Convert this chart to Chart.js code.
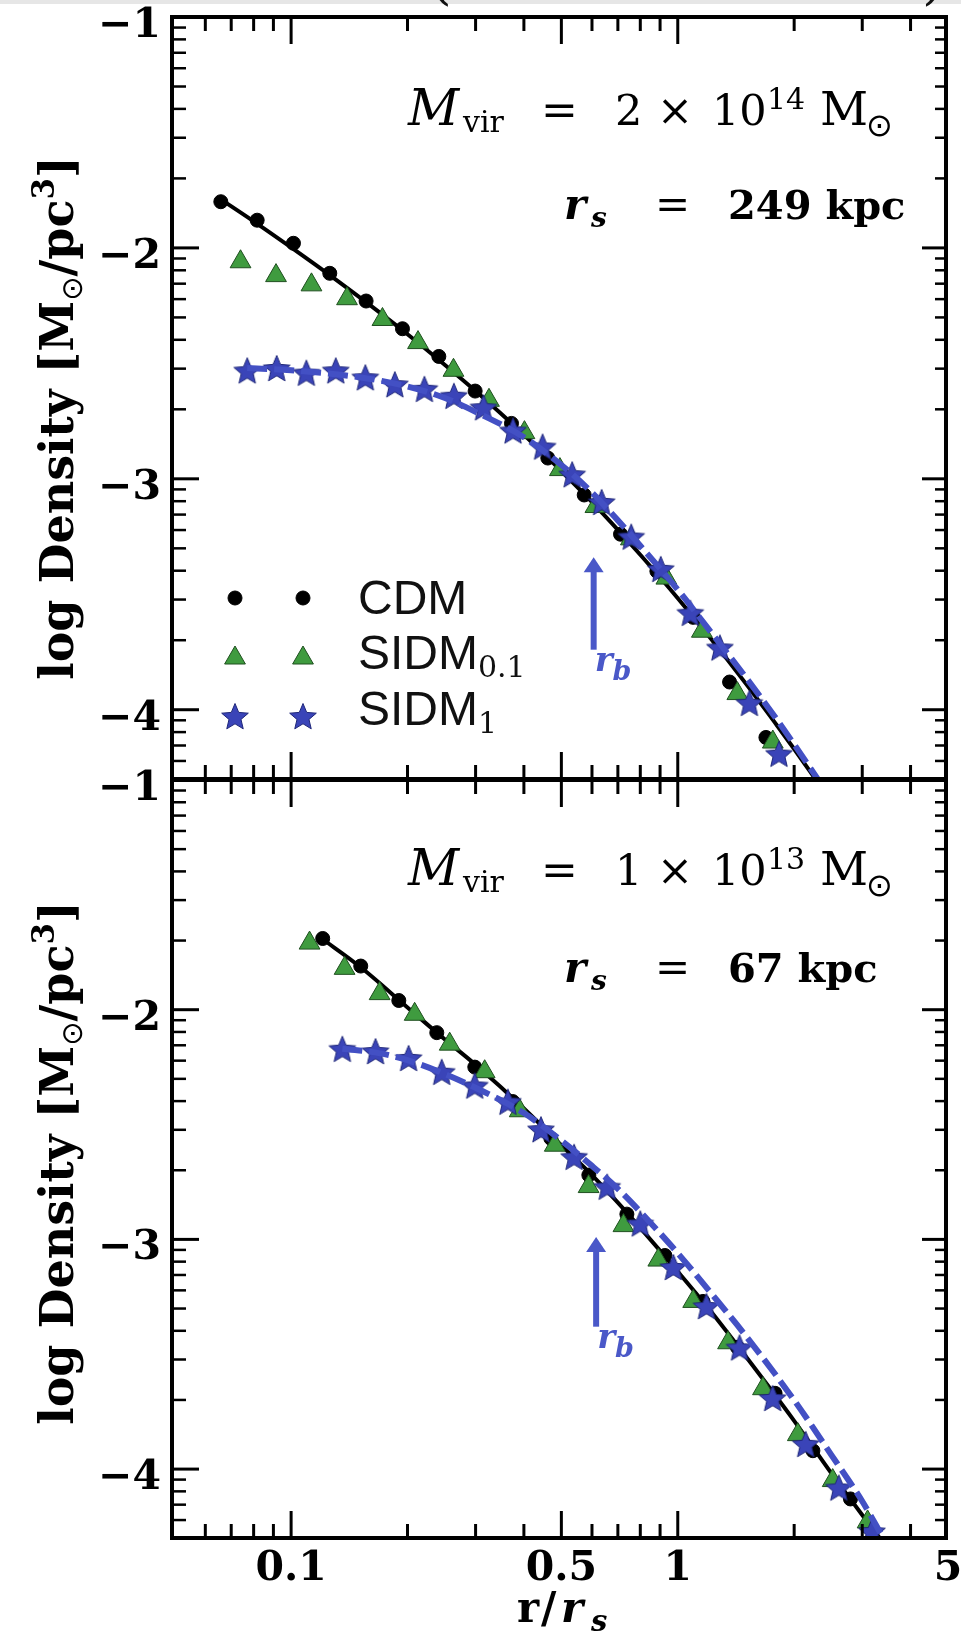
<!DOCTYPE html>
<html><head><meta charset="utf-8">
<script src="https://cdn.jsdelivr.net/npm/chart.js@4.4.1/dist/chart.umd.min.js"></script>
<style>
html,body{margin:0;padding:0;background:#fff;}
body{width:961px;height:1633px;position:relative;overflow:hidden;}
canvas{position:absolute;left:0;top:0;}
#strip{position:absolute;left:0;top:0;width:961px;height:4px;background:#e6e6e6;}
#parens{position:absolute;left:0;top:0;width:961px;height:9px;overflow:hidden;}
#parens span{position:absolute;top:-51px;font:56px "DejaVu Serif";line-height:60px;color:#111;}
</style></head><body>
<div id="strip"></div>
<div id="parens"><span style="left:430px">(</span><span style="left:922px">)</span></div>
<canvas id="top" width="961" height="1633"></canvas>
<canvas id="bot" width="961" height="1633"></canvas>
<script>
// ---------- axis definitions ----------
const X_MIN = 0.0492, X_MAX = 4.94;
const Y_MIN = -4.3, Y_MAX = -1;
const xMajorTicks = [0.1, 0.5, 1, 5];
const xMajorLabels = ['0.1', '0.5', '1', '5'];
const xMinorTicks = [0.06, 0.07, 0.08, 0.09, 0.2, 0.3, 0.4, 0.6, 0.7, 0.8, 0.9, 2, 3, 4];
const yMajorTicks = [-1, -2, -3, -4];
const yMajorLabels = ['\u22121', '\u22122', '\u22123', '\u22124'];
const yMinorMantissas = [2, 3, 4, 5, 6, 7, 8, 9];
const yDecades = [-5, -4, -3, -2];

// ---------- top panel: Mvir = 2e14 Msun, rs = 249 kpc ----------
const topCdmR = [0.0658,0.0817,0.1014,0.1259,0.1563,0.1941,0.2410,0.2992,0.3715,0.4613,0.5728,0.7112,0.8831,1.0965,1.3614,1.6904];
const topCdmRho = [-1.80,-1.88,-1.98,-2.11,-2.23,-2.35,-2.47,-2.62,-2.76,-2.91,-3.07,-3.24,-3.40,-3.60,-3.88,-4.12];
const topSidm01R = [0.0740,0.0914,0.1129,0.1395,0.1723,0.2129,0.2630,0.3249,0.4013,0.4957,0.6124,0.7564,0.9344,1.1543,1.4259,1.7614];
const topSidm01Rho = [-2.06,-2.12,-2.16,-2.22,-2.31,-2.41,-2.53,-2.66,-2.80,-2.96,-3.12,-3.26,-3.43,-3.66,-3.93,-4.14];
const topSidm1R = [0.0770,0.0918,0.1095,0.1305,0.1556,0.1855,0.2212,0.2637,0.3145,0.3750,0.4471,0.5331,0.6356,0.7579,0.9038,1.0777,1.2851,1.5322,1.8270];
const topSidm1Rho = [-2.53,-2.52,-2.54,-2.53,-2.56,-2.59,-2.61,-2.64,-2.69,-2.79,-2.86,-2.98,-3.10,-3.25,-3.39,-3.58,-3.73,-3.97,-4.19];
const topFitR = [0.0658,0.08,0.1,0.13,0.16,0.2,0.25,0.3,0.4,0.5,0.6,0.7,0.8,1.0,1.2,1.5,1.8,2.0,2.2,2.27];
const topFitRho = [-1.79,-1.885,-1.998,-2.135,-2.248,-2.374,-2.507,-2.62,-2.809,-2.966,-3.101,-3.221,-3.329,-3.517,-3.679,-3.887,-4.065,-4.17,-4.268,-4.30];
const topCoreR = [0.077,0.1,0.15,0.2,0.25,0.3,0.4,0.5,0.6,0.7,0.8,1.0,1.2,1.5,1.8,2.0,2.3];
const topCoreRho = [-2.52,-2.53,-2.56,-2.60,-2.65,-2.71,-2.82,-2.94,-3.06,-3.18,-3.29,-3.48,-3.65,-3.86,-4.04,-4.15,-4.30];
const topArrow = {r: 0.606, from: -3.74, to: -3.34};
const topMass = ['2', '14'];
const topRs = '249 kpc';

// ---------- bottom panel: Mvir = 1e13 Msun, rs = 67 kpc ----------
const botCdmR = [0.1207,0.1514,0.1899,0.2381,0.2986,0.3745,0.4696,0.5889,0.7386,0.9262,1.1616,1.4266,1.785,2.236,2.797];
const botCdmRho = [-1.69,-1.81,-1.96,-2.10,-2.25,-2.40,-2.56,-2.72,-2.89,-3.07,-3.27,-3.47,-3.67,-3.92,-4.13];
const botSidm01R = [0.1116,0.1375,0.1694,0.2087,0.2571,0.3167,0.3902,0.4807,0.5880,0.7237,0.8906,1.0962,1.3490,1.6610,2.0440,2.5160,3.0970];
const botSidm01Rho = [-1.71,-1.82,-1.93,-2.02,-2.15,-2.27,-2.44,-2.59,-2.77,-2.94,-3.09,-3.27,-3.45,-3.65,-3.85,-4.05,-4.23];
const botSidm1R = [0.1357,0.1653,0.2013,0.2452,0.2985,0.3636,0.4428,0.5393,0.6569,0.7998,0.9741,1.1863,1.4446,1.7596,2.1429,2.6096,3.1784];
const botSidm1Rho = [-2.17,-2.18,-2.21,-2.27,-2.33,-2.40,-2.52,-2.64,-2.77,-2.93,-3.12,-3.29,-3.47,-3.69,-3.89,-4.08,-4.27];
const botFitR = [0.12,0.15,0.2,0.25,0.3,0.4,0.5,0.6,0.7,0.8,1.0,1.2,1.5,2.0,2.5,3.0,3.4];
const botFitRho = [-1.69,-1.81,-1.99,-2.13,-2.24,-2.43,-2.59,-2.72,-2.84,-2.95,-3.14,-3.30,-3.51,-3.79,-4.02,-4.20,-4.32];
const botCoreR = [0.1357,0.17,0.2,0.25,0.3,0.4,0.5,0.6,0.7,0.8,1.0,1.2,1.5,2.0,2.5,3.0,3.4];
const botCoreRho = [-2.17,-2.19,-2.22,-2.28,-2.34,-2.45,-2.57,-2.68,-2.78,-2.88,-3.06,-3.22,-3.42,-3.70,-3.94,-4.14,-4.30];
const botArrow = {r: 0.615, from: -3.38, to: -2.99};
const botMass = ['1', '13'];
const botRs = '67 kpc';

const legendLabels = ['CDM', 'SIDM', 'SIDM'];
const legendSubs = ['', '0.1', '1'];

// ---------- styling ----------
const BLUE = '#3a44b8', BLUE_LINE = '#4350c4', ARROW = '#4a58c8';
const GREEN = '#3f9b3f', GREEN_EDGE = '#1f4f1f';

function makeStar(outer, inner, fill, stroke) {
  const s = Math.ceil(outer * 2 + 4);
  const c = document.createElement('canvas');
  c.width = c.height = s;
  const g = c.getContext('2d');
  g.beginPath();
  for (let i = 0; i < 10; i++) {
    const r = i % 2 ? inner : outer;
    const a = -Math.PI / 2 + i * Math.PI / 5;
    g.lineTo(s / 2 + r * Math.cos(a), s / 2 + 1.5 + r * Math.sin(a));
  }
  g.closePath();
  g.fillStyle = fill; g.fill();
  g.lineWidth = 1; g.strokeStyle = stroke; g.stroke();
  return c;
}
const STAR = makeStar(14, 6.3, BLUE, '#1e2678');

const zip = (xs, ys) => xs.map((x, i) => ({x: x, y: ys[i]}));

function drawRuns(ctx, x, y, list) {
  let cx = x;
  for (const r of list) {
    ctx.font = r.f;
    const px = (r.x !== undefined) ? r.x : cx;
    ctx.fillText(r.t, px, y + (r.dy || 0));
    cx = px + ctx.measureText(r.t).width;
  }
  return cx;
}
function runsWidth(ctx, list) {
  let w = 0;
  for (const r of list) { ctx.font = r.f; w += ctx.measureText(r.t).width; }
  return w;
}

function panelPlugin(cfg) {
  return {
    id: 'panel_' + cfg.name,
    afterDraw(chart) {
      const ctx = chart.ctx, a = chart.chartArea, xs = chart.scales.x, ys = chart.scales.y;
      ctx.save();
      ctx.strokeStyle = '#000';
      ctx.fillStyle = '#000';
      const seg = (x1, y1, x2, y2, w) => { ctx.lineWidth = w; ctx.beginPath(); ctx.moveTo(x1, y1); ctx.lineTo(x2, y2); ctx.stroke(); };
      const MAJ = 27, MIN = 14, MAJR = 24, MINR = 11;
      xMajorTicks.forEach(v => {
        const p = xs.getPixelForValue(v);
        if (p < a.left + 2 || p > a.right - 2) return;
        seg(p, a.bottom, p, a.bottom - MAJ, 3);
        seg(p, a.top, p, a.top + MAJ, 3);
      });
      xMinorTicks.forEach(v => {
        const p = xs.getPixelForValue(v);
        seg(p, a.bottom, p, a.bottom - MIN, 3);
        seg(p, a.top, p, a.top + MIN, 3);
      });
      yMajorTicks.forEach(v => {
        const p = ys.getPixelForValue(v);
        seg(a.left, p, a.left + MAJ, p, 3);
        seg(a.right, p, a.right - MAJR, p, 3);
      });
      yDecades.forEach(e => yMinorMantissas.forEach(m => {
        const v = e + Math.log10(m);
        if (v <= Y_MIN || v >= Y_MAX) return;
        const p = ys.getPixelForValue(v);
        seg(a.left, p, a.left + MIN, p, 2.5);
        seg(a.right, p, a.right - MINR, p, 2.5);
      }));
      ctx.lineWidth = 4;
      ctx.strokeRect(a.left, a.top, a.right - a.left, a.bottom - a.top);

      // y tick labels
      ctx.font = 'bold 41px "DejaVu Serif"';
      ctx.textAlign = 'right';
      ctx.textBaseline = 'alphabetic';
      yMajorTicks.forEach((v, i) => {
        const p = ys.getPixelForValue(v);
        ctx.fillText(yMajorLabels[i], a.left - 11, p + 20);
      });
      if (cfg.xLabels) {
        ctx.textAlign = 'center';
        xMajorTicks.forEach((v, i) => {
          const p = xs.getPixelForValue(v);
          ctx.fillText(xMajorLabels[i], p, a.bottom + 42);
        });
        ctx.textAlign = 'left';
        drawRuns(ctx, 517, a.bottom + 84, [
          {t: 'r', f: 'bold 42px "DejaVu Serif"'},
          {t: '/', f: 'bold 42px "DejaVu Serif"', x: 541},
          {t: 'r', f: 'bold italic 42px "DejaVu Serif"', x: 561},
          {t: 's', f: 'bold italic 29px "DejaVu Serif"', x: 591, dy: 9}
        ]);
      }
      ctx.textAlign = 'left';

      // y axis title (rotated)
      const ttl = [
        {t: 'log Density [M', f: 'bold 46px "DejaVu Serif"'},
        {t: '\u2299', f: '29px "DejaVu Sans"', dy: 9},
        {t: '/pc', f: 'bold 46px "DejaVu Serif"'},
        {t: '3', f: 'bold 31px "DejaVu Serif"', dy: -19},
        {t: ']', f: 'bold 46px "DejaVu Serif"'}
      ];
      const tw = runsWidth(ctx, ttl);
      ctx.save();
      ctx.translate(73, cfg.titleY);
      ctx.rotate(-Math.PI / 2);
      drawRuns(ctx, -tw / 2, 0, ttl);
      ctx.restore();

      // annotation: Mvir and rs
      const B1 = a.top + cfg.b1, B2 = a.top + cfg.b2;
      drawRuns(ctx, 0, B1, [
        {t: 'M', f: 'italic 50px "DejaVu Serif"', x: 408},
        {t: 'vir', f: '30px "DejaVu Serif"', x: 463, dy: 7},
        {t: '=', f: '44px "DejaVu Serif"', x: 541},
        {t: cfg.mass[0], f: '43px "DejaVu Serif"', x: 615},
        {t: '\u00d7', f: '43px "DejaVu Serif"', x: 657},
        {t: '10', f: '43px "DejaVu Serif"', x: 712},
        {t: cfg.mass[1], f: '30px "DejaVu Serif"', x: 767, dy: -16},
        {t: 'M', f: '47px "DejaVu Serif"', x: 820},
        {t: '\u2299', f: '32px "DejaVu Sans"', x: 866, dy: 11}
      ]);
      drawRuns(ctx, 0, B2, [
        {t: 'r', f: 'bold italic 42px "DejaVu Serif"', x: 564},
        {t: 's', f: 'bold italic 28px "DejaVu Serif"', x: 591, dy: 8},
        {t: '=', f: '42px "DejaVu Serif"', x: 655},
        {t: cfg.rs, f: 'bold 40px "DejaVu Serif"', x: 728}
      ]);

      // r_b arrow (through scales)
      const ax = xs.getPixelForValue(cfg.arrow.r);
      const y0 = ys.getPixelForValue(cfg.arrow.from);
      const y1 = ys.getPixelForValue(cfg.arrow.to);
      ctx.strokeStyle = ARROW; ctx.fillStyle = ARROW;
      seg(ax, y0, ax, y1 + 10, 6);
      ctx.beginPath();
      ctx.moveTo(ax, y1); ctx.lineTo(ax - 10, y1 + 15); ctx.lineTo(ax + 10, y1 + 15); ctx.closePath(); ctx.fill();
      drawRuns(ctx, ax + 1, y0 + 21, [
        {t: 'r', f: 'bold italic 34px "DejaVu Serif"'},
        {t: 'b', f: 'bold italic 27px "DejaVu Serif"', dy: 9}
      ]);

      // legend (top panel)
      if (cfg.legend) {
        const lx = [235, 303], ly = [598, 658, 716], base = [614, 669, 725];
        const styles = [
          {ps: 'circle', r: 7, bg: '#000', bc: '#000'},
          {ps: 'triangle', r: 12, bg: GREEN, bc: GREEN_EDGE},
          {ps: STAR, r: 14, bg: BLUE, bc: BLUE}
        ];
        styles.forEach((s, i) => {
          lx.forEach(x => {
            ctx.fillStyle = s.bg; ctx.strokeStyle = s.bc; ctx.lineWidth = 1;
            Chart.helpers.drawPoint(ctx, {pointStyle: s.ps, radius: s.r, rotation: 0, borderWidth: 1}, x, ly[i]);
          });
          ctx.fillStyle = '#111';
          drawRuns(ctx, 358, base[i], [
            {t: legendLabels[i], f: '48px "Liberation Sans"'},
            {t: legendSubs[i], f: '30px "DejaVu Serif"', dy: 8}
          ]);
        });
      }
      ctx.restore();
    }
  };
}

function buildChart(id, pad, d, cfg) {
  return new Chart(document.getElementById(id), {
    type: 'scatter',
    data: {
      datasets: [
        {label: 'SIDM1 fit', data: zip(d.coreR, d.coreRho), showLine: true, borderColor: BLUE_LINE,
         borderWidth: 6, borderDash: [20, 7], pointRadius: 0, cubicInterpolationMode: 'monotone', order: 1},
        {label: 'SIDM1', data: zip(d.s1R, d.s1Rho), pointStyle: STAR, pointRadius: 14, order: 2},
        {label: 'SIDM0.1', data: zip(d.s01R, d.s01Rho), pointStyle: 'triangle', pointRadius: 12,
         backgroundColor: GREEN, borderColor: GREEN_EDGE, borderWidth: 1, order: 3},
        {label: 'NFW fit', data: zip(d.fitR, d.fitRho), showLine: true, borderColor: '#000', borderWidth: 4,
         pointRadius: 0, cubicInterpolationMode: 'monotone', order: 4},
        {label: 'CDM', data: zip(d.cdmR, d.cdmRho), pointStyle: 'circle', pointRadius: 7,
         backgroundColor: '#000', borderColor: '#000', borderWidth: 1, order: 5}
      ]
    },
    options: {
      responsive: false, animation: false, devicePixelRatio: 1, events: [],
      layout: {padding: pad},
      plugins: {legend: {display: false}, tooltip: {enabled: false}},
      scales: {
        x: {type: 'logarithmic', min: X_MIN, max: X_MAX, display: false, bounds: 'data'},
        y: {type: 'linear', min: Y_MIN, max: Y_MAX, display: false, bounds: 'data'}
      }
    },
    plugins: [panelPlugin(cfg)]
  });
}

buildChart('top', {left: 172, right: 4, top: 17, bottom: 1633 - 779},
  {coreR: topCoreR, coreRho: topCoreRho, s1R: topSidm1R, s1Rho: topSidm1Rho, s01R: topSidm01R, s01Rho: topSidm01Rho,
   fitR: topFitR, fitRho: topFitRho, cdmR: topCdmR, cdmRho: topCdmRho},
  {name: 'top', xLabels: false, legend: true, titleY: 418, b1: 108, b2: 202, mass: topMass, rs: topRs, arrow: topArrow});

buildChart('bot', {left: 172, right: 4, top: 780, bottom: 1633 - 1538},
  {coreR: botCoreR, coreRho: botCoreRho, s1R: botSidm1R, s1Rho: botSidm1Rho, s01R: botSidm01R, s01Rho: botSidm01Rho,
   fitR: botFitR, fitRho: botFitRho, cdmR: botCdmR, cdmRho: botCdmRho},
  {name: 'bot', xLabels: true, legend: false, titleY: 1163, b1: 105, b2: 202, mass: botMass, rs: botRs, arrow: botArrow});
</script>
</body></html>
